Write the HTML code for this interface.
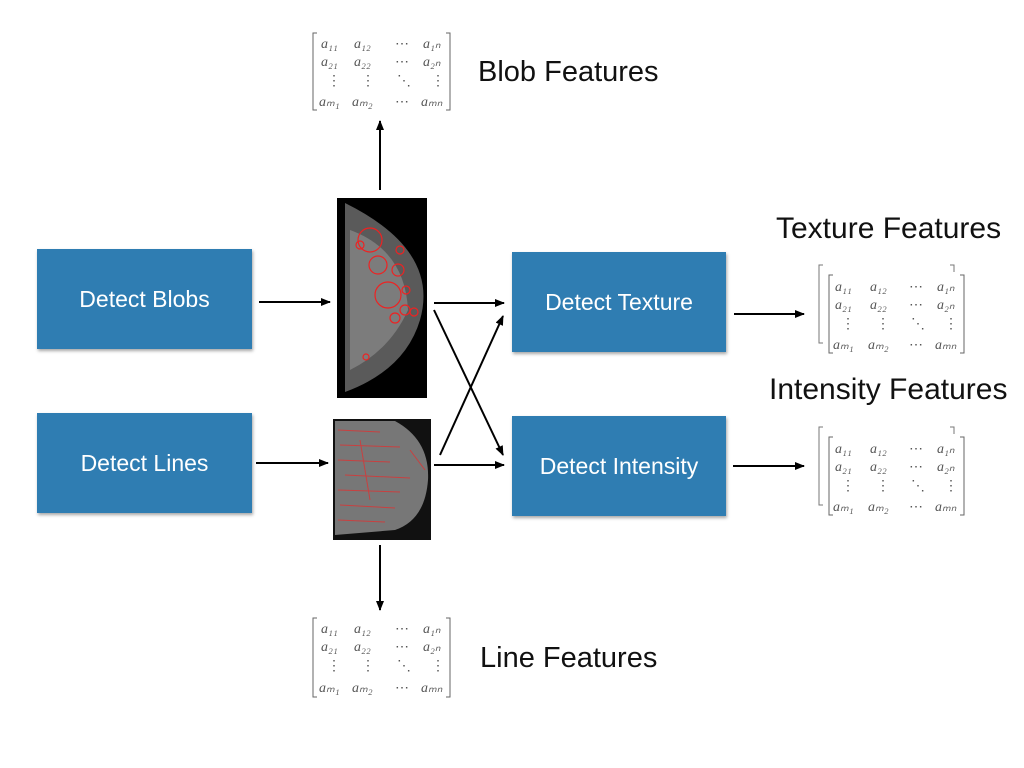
<!DOCTYPE html>
<html><head><meta charset="utf-8"><style>
html,body{margin:0;padding:0;background:#fff;}
body{width:1024px;height:768px;overflow:hidden;position:relative;font-family:"Liberation Sans",sans-serif;}
.box{position:absolute;background:#2f7db2;color:#fff;font-size:23px;display:flex;align-items:center;justify-content:center;box-shadow:1px 2px 3px rgba(0,0,0,0.35);}
.lbl{position:absolute;font-size:29px;color:#111;white-space:nowrap;}
</style></head><body>
<div class="box" style="left:37px;top:249px;width:215px;height:100px;">Detect Blobs</div>
<div class="box" style="left:37px;top:413px;width:215px;height:100px;">Detect Lines</div>
<div class="box" style="left:512px;top:252px;width:214px;height:100px;">Detect Texture</div>
<div class="box" style="left:512px;top:416px;width:214px;height:100px;">Detect Intensity</div>
<div class="lbl" style="left:478px;top:56px;">Blob Features</div>
<div class="lbl" style="left:480px;top:642px;">Line Features</div>
<div class="lbl" style="left:776px;top:212px;font-size:30px;">Texture Features</div>
<div class="lbl" style="left:769px;top:373px;font-size:30px;">Intensity Features</div>
<svg width="1024" height="768" style="position:absolute;left:0;top:0" xmlns="http://www.w3.org/2000/svg">
<defs><marker id="a" markerWidth="10" markerHeight="8" refX="9" refY="4" orient="auto" markerUnits="userSpaceOnUse"><path d="M0,0 L10,4 L0,8z" fill="#000"/></marker></defs>
<g stroke="#000" stroke-width="2" fill="none" marker-end="url(#a)">
<line x1="259" y1="302" x2="330" y2="302"/>
<line x1="256" y1="463" x2="328" y2="463"/>
<line x1="434" y1="303" x2="504" y2="303"/>
<line x1="434" y1="465" x2="504" y2="465"/>
<line x1="434" y1="310" x2="503" y2="455"/>
<line x1="440" y1="455" x2="503" y2="316"/>
<line x1="380" y1="190" x2="380" y2="121"/>
<line x1="380" y1="545" x2="380" y2="610"/>
<line x1="734" y1="314" x2="804" y2="314"/>
<line x1="733" y1="466" x2="804" y2="466"/>
</g>
<!-- mammogram 1 -->
<rect x="337" y="198" width="90" height="200" fill="#000"/>
<path d="M345,203 Q440,250 420,320 Q405,370 345,392 Z" fill="#5a5a5a"/>
<path d="M350,230 Q405,250 408,310 Q390,350 350,370 Z" fill="#8a8a8a" opacity="0.7"/>
<g stroke="#e22" fill="none" stroke-width="1.2">
<circle cx="370" cy="240" r="12"/><circle cx="378" cy="265" r="9"/><circle cx="388" cy="295" r="13"/>
<circle cx="398" cy="270" r="6"/><circle cx="405" cy="310" r="5"/><circle cx="395" cy="318" r="5"/>
<circle cx="360" cy="245" r="4"/><circle cx="400" cy="250" r="4"/><circle cx="414" cy="312" r="4"/>
<circle cx="366" cy="357" r="3"/><circle cx="406" cy="290" r="4"/>
</g>
<!-- mammogram 2 -->
<rect x="333" y="419" width="98" height="121" fill="#111"/>
<path d="M335,421 L395,421 Q430,440 428,480 Q425,520 395,530 L335,535 Z" fill="#777"/>
<g stroke="#d33" stroke-width="1" opacity="0.8">
<line x1="338" y1="430" x2="380" y2="432"/><line x1="340" y1="445" x2="400" y2="447"/><line x1="338" y1="460" x2="390" y2="462"/>
<line x1="345" y1="475" x2="410" y2="478"/><line x1="338" y1="490" x2="400" y2="492"/><line x1="340" y1="505" x2="395" y2="508"/>
<line x1="338" y1="520" x2="385" y2="522"/><line x1="410" y1="450" x2="425" y2="470"/><line x1="360" y1="440" x2="370" y2="500"/>
</g>
<!-- matrices -->
<g font-family="Liberation Serif,serif" font-style="italic" font-size="14" fill="#555">
<g transform="translate(313,33)">
<path d="M4,0 H0 V77 H4 M133,0 H137 V77 H133" stroke="#666" fill="none"/>
<text x="8" y="15">a₁₁</text><text x="41" y="15">a₁₂</text><text x="82" y="15" font-style="normal">⋯</text><text x="110" y="15">a₁ₙ</text>
<text x="8" y="33">a₂₁</text><text x="41" y="33">a₂₂</text><text x="82" y="33" font-style="normal">⋯</text><text x="110" y="33">a₂ₙ</text>
<text x="14" y="52" font-style="normal">⋮</text><text x="48" y="52" font-style="normal">⋮</text><text x="84" y="52" font-style="normal">⋱</text><text x="118" y="52" font-style="normal">⋮</text>
<text x="6" y="73">aₘ₁</text><text x="39" y="73">aₘ₂</text><text x="82" y="73" font-style="normal">⋯</text><text x="108" y="73">aₘₙ</text>
</g>
<g transform="translate(313,618)">
<path d="M4,0 H0 V79 H4 M133,0 H137 V79 H133" stroke="#666" fill="none"/>
<text x="8" y="15">a₁₁</text><text x="41" y="15">a₁₂</text><text x="82" y="15" font-style="normal">⋯</text><text x="110" y="15">a₁ₙ</text>
<text x="8" y="33">a₂₁</text><text x="41" y="33">a₂₂</text><text x="82" y="33" font-style="normal">⋯</text><text x="110" y="33">a₂ₙ</text>
<text x="14" y="52" font-style="normal">⋮</text><text x="48" y="52" font-style="normal">⋮</text><text x="84" y="52" font-style="normal">⋱</text><text x="118" y="52" font-style="normal">⋮</text>
<text x="6" y="74">aₘ₁</text><text x="39" y="74">aₘ₂</text><text x="82" y="74" font-style="normal">⋯</text><text x="108" y="74">aₘₙ</text>
</g>
<path d="M823,265 H819 V343 H823 M950,265 H954 V272" stroke="#777" fill="none"/>
<g transform="translate(829,275)">
<path d="M4,0 H0 V78 H4 M131,0 H135 V78 H131" stroke="#666" fill="none"/>
<text x="6" y="16">a₁₁</text><text x="41" y="16">a₁₂</text><text x="80" y="16" font-style="normal">⋯</text><text x="108" y="16">a₁ₙ</text>
<text x="6" y="34">a₂₁</text><text x="41" y="34">a₂₂</text><text x="80" y="34" font-style="normal">⋯</text><text x="108" y="34">a₂ₙ</text>
<text x="12" y="53" font-style="normal">⋮</text><text x="47" y="53" font-style="normal">⋮</text><text x="82" y="53" font-style="normal">⋱</text><text x="115" y="53" font-style="normal">⋮</text>
<text x="4" y="74">aₘ₁</text><text x="39" y="74">aₘ₂</text><text x="80" y="74" font-style="normal">⋯</text><text x="106" y="74">aₘₙ</text>
</g>
<path d="M823,427 H819 V505 H823 M950,427 H954 V434" stroke="#777" fill="none"/>
<g transform="translate(829,437)">
<path d="M4,0 H0 V78 H4 M131,0 H135 V78 H131" stroke="#666" fill="none"/>
<text x="6" y="16">a₁₁</text><text x="41" y="16">a₁₂</text><text x="80" y="16" font-style="normal">⋯</text><text x="108" y="16">a₁ₙ</text>
<text x="6" y="34">a₂₁</text><text x="41" y="34">a₂₂</text><text x="80" y="34" font-style="normal">⋯</text><text x="108" y="34">a₂ₙ</text>
<text x="12" y="53" font-style="normal">⋮</text><text x="47" y="53" font-style="normal">⋮</text><text x="82" y="53" font-style="normal">⋱</text><text x="115" y="53" font-style="normal">⋮</text>
<text x="4" y="74">aₘ₁</text><text x="39" y="74">aₘ₂</text><text x="80" y="74" font-style="normal">⋯</text><text x="106" y="74">aₘₙ</text>
</g>
</g>
</svg>
</body></html>
